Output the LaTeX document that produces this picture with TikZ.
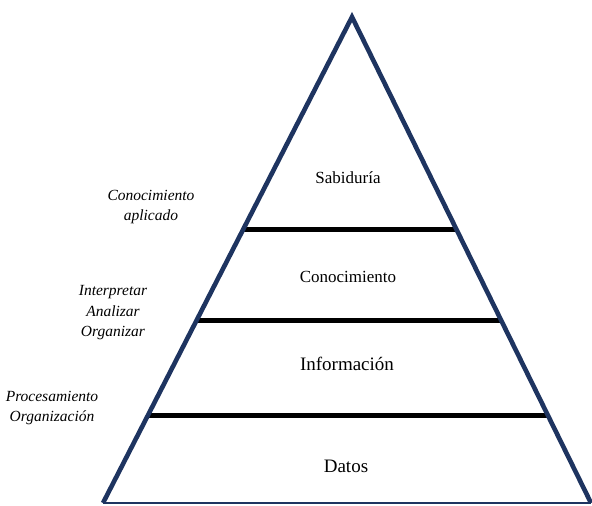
\documentclass[tikz,border=0pt]{standalone}
\usepackage{fontspec}
\setmainfont{Liberation Serif}
\usetikzlibrary{calc}
\definecolor{navy}{RGB}{30,52,96}
\begin{document}
\begin{tikzpicture}[x=1pt,y=-1pt,
  side/.style={draw=navy,line width=4.6pt,line join=miter},
  basel/.style={draw=navy,line width=2pt},
  level/.style={draw=black,line width=4.6pt},
  lbl/.style={inner sep=0pt,font=\fontsize{17}{20}\selectfont},
  biglbl/.style={inner sep=0pt,font=\fontsize{19}{22}\selectfont},
  side lbl/.style={inner sep=0pt,align=center,font=\fontsize{15.5}{20.5}\selectfont\itshape}]
\useasboundingbox (0,0) rectangle (592,506);
\coordinate (A) at (352,17);
\coordinate (L) at (103,503);
\coordinate (R) at (591,503);
\draw[level] ($(A)!0.437!(L)$) -- ($(A)!0.437!(R)$);
\draw[level] ($(A)!0.625!(L)$) -- ($(A)!0.625!(R)$);
\draw[level] ($(A)!0.820!(L)$) -- ($(A)!0.820!(R)$);
\draw[side] (L) -- (A) -- (R);
\draw[basel] (L) -- (R);
\node[lbl] (sab) at (348,178) {Sabiduría};
\node[lbl] (con) at (348,277) {Conocimiento};
\node[biglbl] (inf) at (347,364) {Información};
\node[biglbl] (dat) at (346,466) {Datos};
\node[side lbl] (t1) at (151,207) {Conocimiento\\aplicado};
\node[side lbl] (t2) at (113,313) {Interpretar\\Analizar\\Organizar};
\node[side lbl] (t3) at (52,408) {Procesamiento\\Organización};
\end{tikzpicture}
\end{document}
